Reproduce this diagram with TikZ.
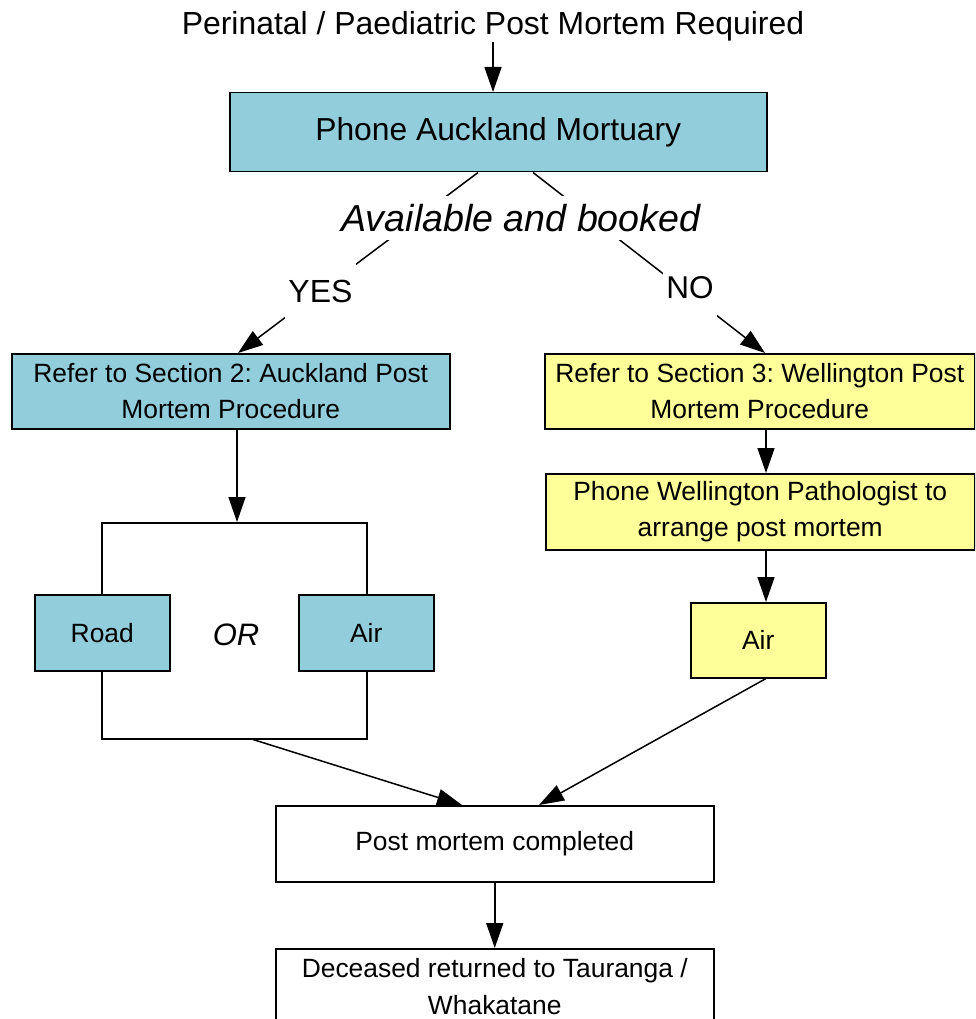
\documentclass[tikz,border=0pt]{standalone}
\usepackage{fontspec}
\setmainfont{Liberation Sans}
\usetikzlibrary{arrows.meta,calc}
\definecolor{boxblue}{HTML}{92CDDC}
\definecolor{boxyellow}{HTML}{FFFF99}
\frenchspacing
\begin{document}
\begin{tikzpicture}[x=1pt,y=-1pt,
  box/.style={draw=black, line width=1.5pt, rectangle, anchor=north west, inner sep=0pt,
    align=center, font=\fontsize{26.4}{36.5}\selectfont},
  lbl/.style={fill=white, inner xsep=3pt, inner ysep=0pt},
  conn/.style={line width=1.5pt},
  arr/.style={conn, -{Triangle[length=25pt,width=17pt]}}]
\useasboundingbox (0,0) rectangle (975,1019);
\clip (0,0) rectangle (975,1019);

% title
\node[inner sep=0pt, anchor=base, font=\fontsize{31.9}{38}\selectfont] (T) at (493,35)
  {Perinatal / Paediatric Post Mortem Required};

% boxes
\node[box, fill=boxblue, minimum width=537pt, minimum height=79pt,
  font=\fontsize{31.8}{38}\selectfont] (A) at (229,92) {Phone Auckland Mortuary};
\node[box, fill=boxblue, minimum width=438pt, minimum height=75pt] (B) at (11,353)
  {Refer to Section 2: Auckland Post\\Mortem Procedure};
\node[box, fill=boxyellow, minimum width=430pt, minimum height=75pt] (C) at (544,353)
  {Refer to Section 3: Wellington Post\\Mortem Procedure};
\node[box, fill=boxyellow, minimum width=429pt, minimum height=76pt] (D) at (545,473)
  {Phone Wellington Pathologist to\\arrange post mortem};
\node[box, minimum width=265pt, minimum height=216pt] (Br) at (101,522) {};
\node[box, fill=boxblue, minimum width=135pt, minimum height=76pt] (Road) at (34,594) {Road};
\node[box, fill=boxblue, minimum width=135pt, minimum height=76pt] (Air) at (298,594) {Air};
\node[box, fill=boxyellow, minimum width=135pt, minimum height=75pt] (Air2) at (690,602) {Air};
\node[box, minimum width=438pt, minimum height=76pt] (P) at (275,805) {Post mortem completed};
\node[box, minimum width=438pt, minimum height=76pt] (E) at (275,948)
  {Deceased returned to Tauranga /\\Whakatane};

\node[anchor=base, inner sep=0pt, font=\fontsize{31}{36}\selectfont\itshape] (OR) at (236,645) {OR};

% connectors
\draw[arr] (T.south) -- (T.south |- A.north);
\draw[arr] ($(A.south west)+(249,0)$) -- ($(B.north west)+(227,0)$);
\draw[arr] ($(A.south west)+(304,0)$) -- ($(C.north west)+(221,0)$);
\draw[arr] ($(B.south west)+(226,0)$) -- ($(Br.north west)+(136,0)$);
\draw[arr] ($(C.south west)+(222,0)$) -- ($(D.north west)+(221,0)$);
\draw[arr] ($(D.south west)+(221,0)$) -- ($(Air2.north west)+(76,0)$);
\draw[arr] ($(Br.south west)+(152,0)$) -- ($(P.north west)+(187,0)$);
\draw[arr] ($(Air2.south west)+(76,0)$) -- ($(P.north west)+(264,0)$);
\draw[arr] (P.south) -- (E.north);

% labels over the connectors
\node[lbl, minimum height=44pt, font=\fontsize{37.6}{44}\selectfont\itshape] (Q) at (521,218)
  {Available and booked};
\node[lbl, minimum height=57pt, font=\fontsize{32}{38}\selectfont] (Y) at (320.5,291) {YES};
\node[lbl, minimum height=57pt, font=\fontsize{31.5}{38}\selectfont] (N) at (690,288) {NO};
\end{tikzpicture}
\end{document}
